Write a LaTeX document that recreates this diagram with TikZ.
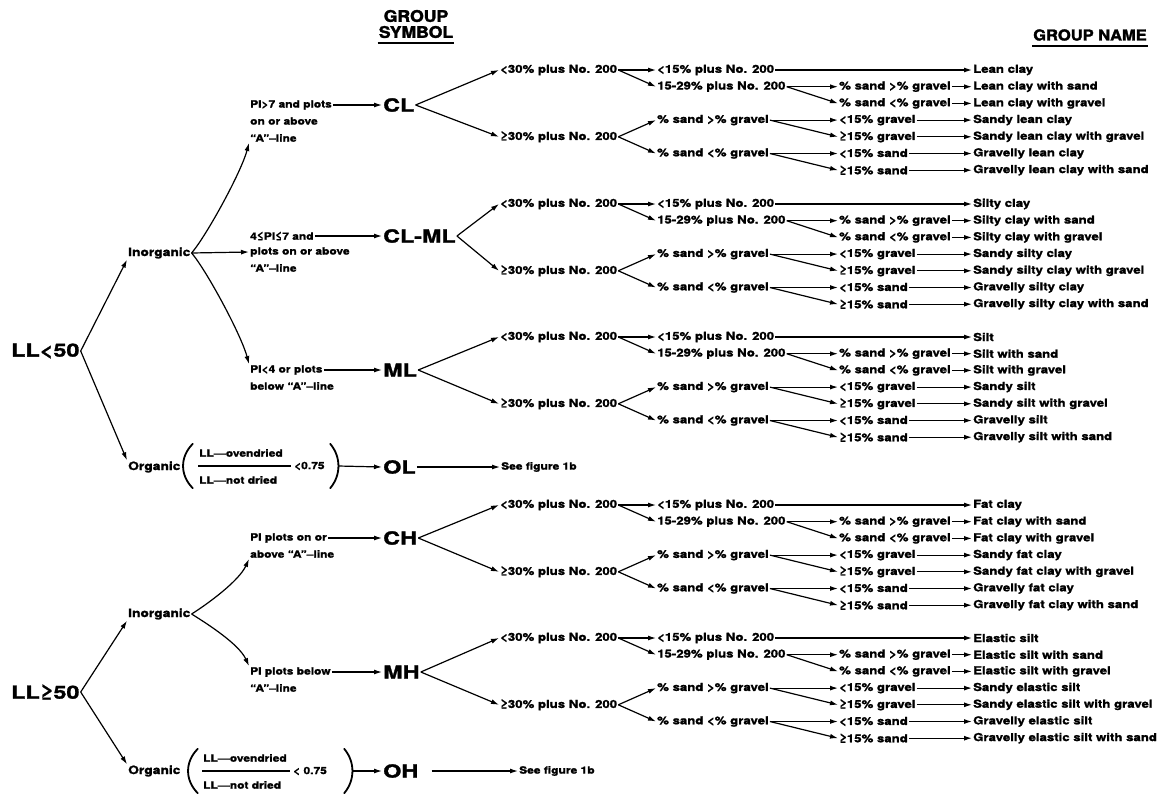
\documentclass[tikz,border=0pt]{standalone}
\usepackage{fontspec}
\setmainfont{TeX Gyre Heros}[FakeStretch=1.2, BoldFeatures={FakeBold=1.5}]
\newfontfamily\bigfont{TeX Gyre Heros}[FakeStretch=1.3, BoldFeatures={FakeBold=1.5}]
\newfontfamily\headfont{TeX Gyre Heros}[FakeStretch=1.1, BoldFeatures={FakeBold=2}]
\usepackage{tikz}
\usetikzlibrary{arrows.meta,positioning}

% one group symbol with its seven group names
\newcommand\groupblock[5]{%
  % #1 prefix, #2 first row, #3 symbol node, #4 name, #5 name in lower case
  \node[txt] (#1lo)  at (499,#2)       {<30\% plus No. 200};
  \node[txt] (#1hi)  at (499,#2+66.8)  {≥30\% plus No. 200};
  \node[txt] (#1fine) at (656,#2)      {<15\% plus No. 200};
  \node[txt] (#1mid) at (656,#2+16.7)  {15-29\% plus No. 200};
  \node[txt] (#1sg)  at (656,#2+50.1)  {\% sand >\% gravel};
  \node[txt] (#1gs)  at (656,#2+83.5)  {\% sand <\% gravel};
  \node[txt] (#1sgb) at (838,#2+16.7)  {\% sand >\% gravel};
  \node[txt] (#1gsb) at (838,#2+33.4)  {\% sand <\% gravel};
  \node[txt] (#1gl)  at (838,#2+50.1)  {<15\% gravel};
  \node[txt] (#1gh)  at (838,#2+66.8)  {≥15\% gravel};
  \node[txt] (#1sl)  at (838,#2+83.5)  {<15\% sand};
  \node[txt] (#1sh)  at (838,#2+100.2) {≥15\% sand};
  \node[txt] (#1n1)  at (972,#2)       {#4};
  \node[txt] (#1n2)  at (972,#2+16.7)  {#4 with sand};
  \node[txt] (#1n3)  at (972,#2+33.4)  {#4 with gravel};
  \node[txt] (#1n4)  at (972,#2+50.1)  {Sandy #5};
  \node[txt] (#1n5)  at (972,#2+66.8)  {Sandy #5 with gravel};
  \node[txt] (#1n6)  at (972,#2+83.5)  {Gravelly #5};
  \node[txt] (#1n7)  at (972,#2+100.2) {Gravelly #5 with sand};
  \draw[arr] (#3.east) -- (#1lo.west);
  \draw[arr] (#3.east) -- (#1hi.west);
  \foreach \a/\b in {lo/fine,lo/mid,hi/sg,hi/gs,fine/n1,mid/sgb,mid/gsb,sg/gl,sg/gh,gs/sl,gs/sh,sgb/n2,gsb/n3,gl/n4,gh/n5,sl/n6,sh/n7}
    {\draw[arr] (#1\a.east) -- (#1\b.west);}
}

\begin{document}
\begin{tikzpicture}[x=1pt, y=-1pt, line join=round,
    txt/.style={font=\bfseries\fontsize{11}{13}\selectfont, inner sep=1pt, anchor=west},
    note/.style={font=\bfseries\fontsize{10}{12}\selectfont, inner sep=1pt, anchor=west},
    kind/.style={font=\bfseries\fontsize{11.5}{13}\selectfont, inner sep=1pt, anchor=west},
    sym/.style={font=\bigfont\bfseries\fontsize{18}{20}\selectfont, inner sep=1pt, anchor=west},
    head/.style={font=\headfont\bfseries\fontsize{16}{18}\selectfont, inner sep=1pt},
    arr/.style={-{Latex[length=8pt,width=5pt]}, line width=1.2pt},
    paren/.style={line width=1.8pt, line cap=round},
    ratiobox/.style={minimum width=#1, minimum height=44pt, inner sep=0pt}]
  \fill[white] (0,0) rectangle (1160,798);
  \useasboundingbox (0,0) rectangle (1160,798);

  % column headings
  \node[head] (grp) at (416,16) {GROUP};
  \node[head] (symb) at (416,32) {SYMBOL};
  \draw[line width=1.8pt] ([yshift=-4pt]symb.south west) -- ([yshift=-4pt]symb.south east);
  \node[head, font=\headfont\bfseries\fontsize{15}{18}\selectfont] (gname) at (1090,35) {GROUP NAME};
  \draw[line width=1.8pt] ([yshift=-4pt]gname.south west) -- ([yshift=-4pt]gname.south east);

  % liquid limit
  \node[sym] (ll50) at (10,351) {LL<50};
  \node[sym] (ll50b) at (10,692) {LL≥50};
  \node[kind] (inorg1) at (127,253) {Inorganic};
  \node[kind] (org1) at (127,467) {Organic};
  \node[kind] (inorg2) at (127,614) {Inorganic};
  \node[kind] (org2) at (127,771) {Organic};
  \draw[arr] (ll50.east) -- (inorg1.south west);
  \draw[arr] (ll50.east) -- (org1.north west);
  \draw[arr] (ll50b.east) -- (inorg2.south west);
  \draw[arr] (ll50b.east) -- (org2.north west);

  % plasticity, LL<50
  \node[note] (pi7a) at (249,105) {PI>7 and plots};
  \node[note] (pi7b) at (249,121) {on or above};
  \node[note] (pi7c) at (249,138) {“A”–line};
  \node[note] (pi4a) at (249,236) {4≤PI≤7 and};
  \node[note] (pi4b) at (249,252) {plots on or above};
  \node[note] (pi4c) at (249,268) {“A”–line};
  \node[note] (pi0a) at (249,370) {PI<4 or plots};
  \node[note] (pi0b) at (249,386) {below “A”–line};
  \draw[arr] (inorg1.east) .. controls +(14,-16) and +(-8,30) .. (pi7c.south west);
  \draw[arr] (inorg1.east) -- (pi4b.west);
  \draw[arr] (inorg1.east) .. controls +(14,16) and +(-8,-30) .. (pi0a.north west);

  % plasticity, LL>=50
  \node[note] (phA) at (249,538) {PI plots on or};
  \node[note] (phB) at (249,554) {above “A”–line};
  \node[note] (pmA) at (249,672) {PI plots below};
  \node[note] (pmB) at (249,688) {“A”–line};
  \draw[arr] (inorg2.east) .. controls +(16,-10) and +(-10,22) .. (phB.south west);
  \draw[arr] (inorg2.east) .. controls +(16,10) and +(-10,-22) .. (pmA.north west);

  % group symbols
  \node[sym] (symCL) at (382,105) {CL};
  \node[sym] (symCLML) at (382,236) {CL-ML};
  \node[sym] (symML) at (382,370) {ML};
  \node[sym] (symOL) at (382,467) {OL};
  \node[sym] (symCH) at (382,538) {CH};
  \node[sym] (symMH) at (382,672) {MH};
  \node[sym] (symOH) at (382,771) {OH};
  \draw[arr] (pi7a.east) -- (symCL.west);
  \draw[arr] (pi4a.east) -- (symCLML.west);
  \draw[arr] (pi0a.east) -- (symML.west);
  \draw[arr] (phA.east) -- (symCH.west);
  \draw[arr] (pmA.east) -- (symMH.west);

  % organic ratio, LL<50
  \node[ratiobox=155pt] (ratio1) at (260.5,466) {};
  \node[note] (num1) at (198,453) {LL—ovendried};
  \node[note] (den1) at (198,480) {LL—not dried};
  \node[note] (lt1) at (293,466) {<0.75};
  \draw[line width=1.3pt] (198,466) -- (291,466);
  \draw[paren] ([xshift=10pt]ratio1.north west) .. controls +(-13,13) and +(-13,-13) .. ([xshift=10pt]ratio1.south west);
  \draw[paren] ([xshift=-8pt]ratio1.north east) .. controls +(11,13) and +(11,-13) .. ([xshift=-8pt]ratio1.south east);
  \node[note] (fig1) at (500,467) {See figure 1b};
  \draw[arr] (ratio1.east) -- (symOL.west);
  \draw[arr] (symOL.east) -- (fig1.west);

  % organic ratio, LL>=50
  \node[ratiobox=164pt] (ratio2) at (270,771) {};
  \node[note] (num2) at (202,758) {LL—ovendried};
  \node[note] (den2) at (202,785) {LL—not dried};
  \node[note] (lt2) at (292,771) {< 0.75};
  \draw[line width=1.3pt] (202,771) -- (290,771);
  \draw[paren] ([xshift=10pt]ratio2.north west) .. controls +(-13,13) and +(-13,-13) .. ([xshift=10pt]ratio2.south west);
  \draw[paren] ([xshift=-8pt]ratio2.north east) .. controls +(11,13) and +(11,-13) .. ([xshift=-8pt]ratio2.south east);
  \node[note] (fig2) at (518,771) {See figure 1b};
  \draw[arr] (ratio2.east) -- (symOH.west);
  \draw[arr, shorten <=12pt] (symOH.east) -- (fig2.west);

  % fine-grained groups
  \groupblock{CL}{70}{symCL}{Lean clay}{lean clay}
  \groupblock{CLML}{204}{symCLML}{Silty clay}{silty clay}
  \groupblock{ML}{337}{symML}{Silt}{silt}
  \groupblock{CH}{505}{symCH}{Fat clay}{fat clay}
  \groupblock{MH}{638}{symMH}{Elastic silt}{elastic silt}
\end{tikzpicture}
\end{document}
